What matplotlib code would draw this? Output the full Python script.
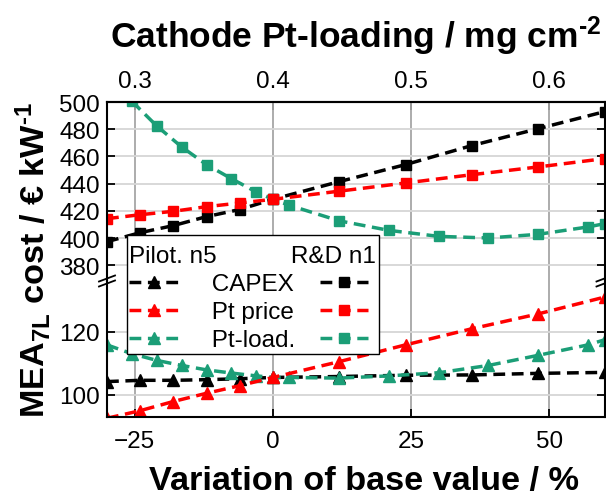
import numpy as np
import matplotlib
matplotlib.use('Agg')
import matplotlib.pyplot as plt
from matplotlib.lines import Line2D

plt.rcParams['font.family'] = ['Liberation Sans', 'DejaVu Sans']
plt.rcParams['mathtext.fontset'] = 'custom'
plt.rcParams['mathtext.rm'] = 'Liberation Sans:bold'
plt.rcParams['mathtext.it'] = 'Liberation Sans:bold'
plt.rcParams['mathtext.bf'] = 'Liberation Sans:bold'

# ---------------- data ----------------
x_main = [-30, -24, -18, -12, -6, 0, 12, 24, 36, 48, 60]
rd_capex = [397.4, 404.0, 409.2, 415.8, 421.0, 428.5, 441.5, 454.0, 468.0, 480.4, 492.9]
rd_ptprice = [414.3, 417.2, 419.7, 423.1, 425.8, 428.5, 434.5, 440.5, 446.6, 452.3, 458.4]
x_load_rd = [-25.5, -21, -16.5, -12, -7.5, -3, 0, 3, 12, 21, 30, 39, 48, 57, 60]
rd_ptload = [500.5, 482.4, 467.0, 454.0, 443.7, 433.9, 428.5, 424.1, 412.7, 405.7,
             401.3, 400.1, 402.8, 408.2, 410.6]
pilot_capex = [104.2, 104.6, 104.6, 104.8, 105.1, 105.5, 105.8, 106.2, 106.3, 106.8, 107.1]
pilot_ptprice = [92.6, 95.0, 97.9, 100.5, 102.9, 105.5, 110.5, 115.8, 120.9, 125.6, 130.9]
x_load_pilot = [-30, -25.5, -21, -16.5, -12, -7.5, -3, 0, 3, 12, 21, 30, 39, 48, 57, 60]
pilot_ptload = [115.8, 113.0, 110.9, 109.3, 107.9, 106.9, 106.0, 105.5, 105.5, 105.3,
                106.0, 107.0, 109.3, 112.5, 115.8, 117.4]

series_labels = ['CAPEX', 'Pt price', 'Pt-load.']
xticks = [-25, 0, 25, 50]
top_ticks = [0.3, 0.4, 0.5, 0.6]
yticks_top = [380, 400, 420, 440, 460, 480, 500]
yticks_bot = [100, 120]

BLACK, RED, GREEN = '#000000', '#ff0000', '#1b9e77'
LW = 2.5
DASH = (0, (3.4, 1.9))
TICKFS = 17.5
LABFS = 24.7

fig = plt.figure(figsize=(6.06, 5.02), dpi=100)
gs = fig.add_gridspec(2, 1, height_ratios=[179, 136], hspace=0,
                      left=107/606, right=604.5/606, top=1-103/502, bottom=1-418/502)
ax1 = fig.add_subplot(gs[0])
ax2 = fig.add_subplot(gs[1], sharex=ax1)

sq = dict(marker='s', ms=7, ls=DASH, lw=LW)
tri = dict(marker='^', ms=8.5, ls=DASH, lw=LW)

ax1.plot(x_main, rd_capex, color=BLACK, **sq)
ax1.plot(x_load_rd, rd_ptload, color=GREEN, **sq)
ax1.plot(x_main, rd_ptprice, color=RED, **sq)

ax2.plot(x_main, pilot_capex, color=BLACK, **tri)
ax2.plot(x_load_pilot, pilot_ptload, color=GREEN, **tri)
ax2.plot(x_main, pilot_ptprice, color=RED, **tri)

ax1.set_xlim(-30, 60)
ax1.set_ylim(368.5, 500)
ax2.set_ylim(93, 136)
ax1.set_yticks(yticks_top)
ax2.set_yticks(yticks_bot)
ax2.set_xticks(xticks)

for ax in (ax1, ax2):
    ax.set_axisbelow(True)
    ax.grid(axis='x', color='#a6a6a6', lw=1.3)
    ax.grid(axis='y', color='#d6d6d6', lw=1.3)
    for s in ax.spines.values():
        s.set_linewidth(1.5)
    ax.tick_params(direction='in', length=6, width=1.3, labelsize=TICKFS,
                   left=True, right=True, pad=5)

ax1.spines['bottom'].set_visible(False)
ax2.spines['top'].set_visible(False)
ax1.tick_params(axis='x', bottom=False, top=False, labelbottom=False)
ax2.tick_params(axis='x', bottom=True, top=False, pad=9)

def fwd(x):
    return 0.4 * (1 + np.asarray(x) / 100.0)

def inv(l):
    return (np.asarray(l) / 0.4 - 1) * 100.0

sec = ax1.secondary_xaxis('top', functions=(fwd, inv))
sec.set_xticks(top_ticks)
sec.tick_params(direction='in', length=6, width=1.3, labelsize=TICKFS, pad=7)
sec.spines['top'].set_linewidth(1.5)
sec.set_xlabel('Cathode Pt-loading / mg cm$^{\u20102}$', fontsize=25.5,
               fontweight='bold', labelpad=17)

ax2.set_xlabel('Variation of base value / %', fontsize=LABFS, fontweight='bold', labelpad=10)
ax2.xaxis.label.set_x(0.516)
fig.text(33/606, 1-260/502, 'MEA$_{7L}$ cost / € kW$^{\u20101}$', rotation=90,
         fontsize=LABFS, fontweight='bold', ha='center', va='center')

# break marks
W, H = 606.0, 502.0
yb = 282
for xs in (107, 604.5):
    for dy in (-2.5, 2.5):
        fig.add_artist(Line2D([(xs-8)/W, (xs+8)/W], [1-(yb+dy+3)/H, 1-(yb+dy-3)/H],
                              color='black', lw=1.3, transform=fig.transFigure, clip_on=False))

# legend
handles = [Line2D([], [], color=c, marker='^', ms=8.5, ls=DASH, lw=LW) for c in (BLACK, RED, GREEN)]
handles += [Line2D([], [], color=c, marker='s', ms=7, ls=DASH, lw=LW) for c in (BLACK, RED, GREEN)]
labels = ['     ' + s for s in series_labels] + ['', '', '']
leg = ax2.legend(handles, labels, ncol=2, loc='upper left',
                 bbox_to_anchor=(127/W, 1-236/H), bbox_transform=fig.transFigure,
                 fontsize=TICKFS, title='\nPilot. n5' + ' ' * 11 + 'R&D n1', title_fontsize=TICKFS,
                 alignment='left', frameon=True, fancybox=False, framealpha=1,
                 edgecolor='black', borderpad=0.1, borderaxespad=0, handlelength=2.0,
                 handletextpad=0.0, columnspacing=1.0, labelspacing=0.25)
leg.get_title().set_linespacing(0.15)
leg.get_frame().set_linewidth(1.0)
leg.set_zorder(10)

fig.savefig('out.png', dpi=100)
